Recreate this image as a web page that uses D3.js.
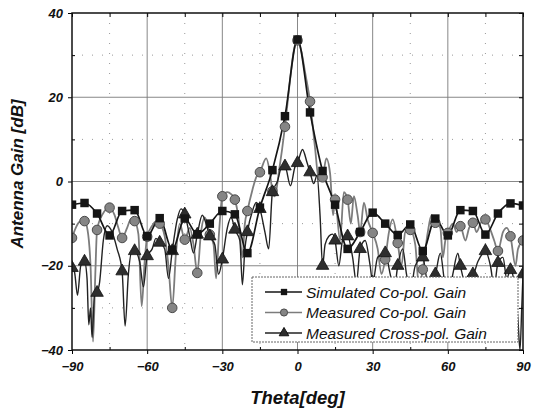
<!DOCTYPE html>
<html>
<head>
<meta charset="utf-8">
<script src="https://cdn.jsdelivr.net/npm/d3@7"></script>
<style>
  html, body { margin: 0; padding: 0; background: #fff; }
  svg { display: block; font-family: "Liberation Sans", Arial, sans-serif; }
</style>
</head>
<body>
<svg id="chart" width="543" height="410"></svg>
<script>
// Simulated co-pol gain, one point every 5 degrees
const simTheta = [-90, -85, -80, -75, -70, -65, -60, -55, -50, -45, -40, -35, -30, -25, -20, -15, -10, -5, 0,
    5, 10, 15, 20, 25, 30, 35, 40, 45, 50, 55, 60, 65, 70, 75, 80, 85, 90];
const simGain = [-5.5, -5.1, -7.6, -12.8, -7.0, -6.8, -13.0, -8.7, -16.2, -8.8, -12.5, -10.0, -7.0, -7.8, -17.0, -6.2, 2.7, 15.5, 33.7,
    16.4, 2.5, -5.5, -16.0, -12.0, -7.4, -10.0, -12.7, -10.2, -16.5, -8.8, -12.8, -6.8, -7.0, -12.6, -7.6, -5.2, -5.7];

// Measured co-pol gain
const coTheta = [-90, -88.5, -87, -85, -83.8, -82.6, -81.6, -80.7, -80, -78, -75, -73, -71.5, -70, -68, -66.5, -65, -63.5, -62.2, -61,
    -60, -58, -56.5, -55, -53, -51.5, -50, -48.5, -47, -45, -43, -41.5, -40, -38.5, -37, -35, -33.5, -32.5, -31.3, -30,
    -28, -26.5, -25, -23.5, -22, -21, -20, -18, -16.5, -15, -12.5, -11, -10, -9, -7.5, -5, -3, -1.5, 0, 1.5,
    3, 5, 7, 8.5, 10, 11.5, 13, 14.2, 15, 17, 18.5, 20, 21.3, 22.5, 24, 25, 26.5, 28, 30, 32,
    33.5, 35, 36.5, 38, 40, 41.5, 43, 45, 47, 48.5, 50, 52, 53.5, 55, 57, 58, 59, 60, 62, 63.5,
    65, 67, 68.5, 70, 71.5, 73, 75, 77, 78.5, 80, 82, 83.5, 85, 87, 88, 90];
const coGain = [-13.4, -11, -9.6, -9.4, -11.5, -20, -38, -22, -11.5, -8, -6.2, -8, -11, -13.4, -11, -9, -9.4, -12.5, -29.6, -19,
    -13.1, -10.5, -9.5, -10, -13, -20, -30, -17, -10, -13.8, -11, -15, -21.7, -12, -8.5, -12.6, -15, -23, -12, -3.5,
    -2.5, -3, -4.3, -9, -18, -10, -7, -2, 1, 2.2, 5.5, 2, -2.3, -3.5, 2, 13, 24, 31, 33.5, 31,
    26, 19, 8, 0.5, 1, 5.5, 2, -8, -4.3, -14, -2.5, -4.3, -10, -3.5, -8, -12, -5, -9, -12.2, -16,
    -22, -18.5, -12, -9, -14.6, -20, -12, -11.5, -15, -25, -20.9, -12, -8, -9.8, -11, -18, -14, -12.2, -10, -12,
    -10.6, -14, -11, -9.8, -12, -10, -9, -11.5, -14, -16.5, -12, -11, -13, -20, -16, -14];

// Measured cross-pol gain
const crossTheta = [-90, -89, -87.8, -86.5, -85, -84, -83.3, -82.6, -82, -81, -80, -79, -77.5, -76, -74, -72, -70, -68.8, -67.5, -66,
    -65, -63, -61.5, -60, -58, -56.5, -55, -53, -51.5, -50, -48, -46.5, -45, -43, -41.5, -40, -38, -36.5, -35, -33,
    -31.5, -30, -28, -26.5, -25, -23, -22, -21, -20, -18, -16.5, -15, -13, -11.5, -10, -8, -6.3, -5, -2.8, -1,
    0, 2, 3.8, 5, 6.5, 7.8, 9, 10, 11, 12.5, 14, 15, 16.5, 18, 20, 22, 23.5, 25, 27, 29,
    30, 32, 35, 37, 38.5, 40, 42, 43.5, 45, 47, 50, 52, 55, 57, 58.5, 60, 62, 64, 65, 67,
    68.5, 70, 72, 74, 75, 77, 78.5, 80, 82, 83.5, 85, 86.5, 88, 88.8, 89.5, 90];
const crossGain = [-20.5, -21.5, -27, -20, -19, -23, -34, -30, -37, -27, -26.4, -24, -14, -10.5, -12, -16, -21.3, -34.3, -22, -16.5,
    -16.5, -19, -25, -17.7, -16, -13.5, -14.5, -16, -23, -16.5, -9, -6.5, -7.8, -13, -17, -12.6, -8, -10, -13, -15,
    -22, -18.5, -11, -8.5, -11.4, -14, -24.5, -16, -12, -7, -5, -6.5, -12, -16, -2.5, 0, 3.5, 3.6, -1, 3.5,
    4.4, 7.6, 4.5, 2.2, -0.5, 1.5, -8, -20, -15, -13, -12.5, -14, -20, -14, -13, -18, -24, -16, -14, -20,
    -24, -18, -17, -22, -26, -20, -16, -22, -26, -20, -18, -24, -22, -17, -23, -28, -22, -17, -20, -24,
    -22, -22, -19, -17, -16.5, -20, -25, -19.3, -18, -23, -21, -24, -33, -40, -30, -22];

const xTicks = [-90, -60, -30, 0, 30, 60, 90];
const xMinor = [-75, -45, -15, 15, 45, 75];
const yTicks = [-40, -20, 0, 20, 40];
const yMinor = [-30, -10, 10, 30];
const seriesNames = ['Simulated Co-pol. Gain', 'Measured Co-pol. Gain', 'Measured Cross-pol. Gain'];

const plot = { left: 72, right: 523, top: 13, bottom: 350 };
const svg = d3.select('#chart');

const x = d3.scaleLinear().domain([-90, 90]).range([plot.left, plot.right]);
const y = d3.scaleLinear().domain([-40, 40]).range([plot.bottom, plot.top]);

// Grid
const grid = svg.append('g');
grid.selectAll('.gx').data(xTicks.slice(1, -1)).enter().append('line')
    .attr('x1', d => x(d)).attr('x2', d => x(d)).attr('y1', plot.top).attr('y2', plot.bottom)
    .attr('stroke', '#7a7a7a').attr('stroke-width', 0.9);
grid.selectAll('.gy').data(yTicks.slice(1, -1)).enter().append('line')
    .attr('x1', plot.left).attr('x2', plot.right).attr('y1', d => y(d)).attr('y2', d => y(d))
    .attr('stroke', '#7a7a7a').attr('stroke-width', 0.9);
grid.selectAll('.mx').data(xMinor).enter().append('line')
    .attr('x1', d => x(d)).attr('x2', d => x(d)).attr('y1', plot.top).attr('y2', plot.bottom)
    .attr('stroke', '#999').attr('stroke-width', 1).attr('stroke-dasharray', '1,9');
grid.selectAll('.my').data(yMinor).enter().append('line')
    .attr('x1', plot.left).attr('x2', plot.right).attr('y1', d => y(d)).attr('y2', d => y(d))
    .attr('stroke', '#999').attr('stroke-width', 1).attr('stroke-dasharray', '1,9');

svg.append('clipPath').attr('id', 'clip').append('rect')
    .attr('x', plot.left).attr('y', plot.top)
    .attr('width', plot.right - plot.left).attr('height', plot.bottom - plot.top);

const zip = (t, v) => t.map((d, i) => ({ theta: d, gain: v[i] }));
const simData = zip(simTheta, simGain);
const coData = zip(coTheta, coGain);
const crossData = zip(crossTheta, crossGain);
const onFive = d => Math.abs(d.theta % 5) < 1e-9;

const line = d3.line().x(d => x(d.theta)).y(d => y(d.gain)).curve(d3.curveMonotoneX);
const marks = svg.append('g').attr('clip-path', 'url(#clip)');

const sym = {
    square: d3.symbol().type(d3.symbolSquare).size(72),
    circle: d3.symbol().type(d3.symbolCircle).size(72),
    triangle: d3.symbol().type(d3.symbolTriangle).size(68)
};

// Measured co-pol
marks.append('path').datum(coData)
    .attr('fill', 'none').attr('stroke', '#7c7c7c').attr('stroke-width', 1.8).attr('d', line);
// Measured cross-pol
marks.append('path').datum(crossData)
    .attr('fill', 'none').attr('stroke', '#222').attr('stroke-width', 1.4).attr('d', line);
// Simulated co-pol
marks.append('path').datum(simData)
    .attr('fill', 'none').attr('stroke', '#151515').attr('stroke-width', 1.7).attr('d', line);

marks.selectAll('.co-pt').data(coData.filter(onFive)).enter().append('path')
    .attr('transform', d => `translate(${x(d.theta)},${y(d.gain)})`)
    .attr('d', sym.circle()).attr('fill', '#858585').attr('stroke', '#4a4a4a').attr('stroke-width', 1);
marks.selectAll('.cross-pt').data(crossData.filter(onFive)).enter().append('path')
    .attr('transform', d => `translate(${x(d.theta)},${y(d.gain)})`)
    .attr('d', sym.triangle()).attr('fill', '#2e2e2e').attr('stroke', '#111').attr('stroke-width', 0.8);
marks.selectAll('.sim-pt').data(simData).enter().append('path')
    .attr('transform', d => `translate(${x(d.theta)},${y(d.gain)})`)
    .attr('d', sym.square()).attr('fill', '#151515');

// Axes
const tickFont = g => g.selectAll('text')
    .attr('font-size', '13px').attr('font-weight', 'bold').attr('font-style', 'italic').attr('fill', '#111');

svg.append('g').attr('transform', `translate(0,${plot.bottom})`)
    .call(d3.axisBottom(x).tickValues(xTicks).tickSize(4).tickPadding(8))
    .call(tickFont).call(g => g.select('.domain').remove());
svg.append('g').attr('transform', `translate(0,${plot.bottom})`)
    .call(d3.axisBottom(x).tickValues(xMinor).tickSize(-3).tickFormat(''))
    .call(g => g.select('.domain').remove());
svg.append('g').attr('transform', `translate(${plot.left},0)`)
    .call(d3.axisLeft(y).tickValues(yTicks).tickSize(4).tickPadding(5))
    .call(tickFont).call(g => g.select('.domain').remove());
svg.append('g').attr('transform', `translate(${plot.left},0)`)
    .call(d3.axisLeft(y).tickValues(yMinor).tickSize(-3).tickFormat(''))
    .call(g => g.select('.domain').remove());
svg.append('g').attr('transform', `translate(0,${plot.top})`)
    .call(d3.axisTop(x).tickValues(xTicks.concat(xMinor)).tickSize(-4).tickFormat(''))
    .call(g => g.select('.domain').remove());
svg.append('g').attr('transform', `translate(${plot.right},0)`)
    .call(d3.axisRight(y).tickValues(yTicks.concat(yMinor)).tickSize(-4).tickFormat(''))
    .call(g => g.select('.domain').remove());

// Frame
svg.append('rect')
    .attr('x', plot.left).attr('y', plot.top)
    .attr('width', plot.right - plot.left).attr('height', plot.bottom - plot.top)
    .attr('fill', 'none').attr('stroke', '#111').attr('stroke-width', 1.5);

// Axis titles
svg.append('text')
    .attr('x', (plot.left + plot.right) / 2).attr('y', 404)
    .attr('text-anchor', 'middle').attr('font-size', '18.5px').attr('font-weight', 'bold').attr('font-style', 'italic')
    .attr('fill', '#111').text('Theta[deg]');
svg.append('text')
    .attr('transform', 'translate(23,174) rotate(-90)')
    .attr('text-anchor', 'middle').attr('font-size', '17px').attr('font-weight', 'bold').attr('font-style', 'italic')
    .attr('fill', '#111').text('Antenna Gain [dB]');

// Legend
const legend = svg.append('g').attr('transform', 'translate(252,277)');
legend.append('rect').attr('width', 266).attr('height', 65)
    .attr('fill', '#fff').attr('stroke', '#666').attr('stroke-width', 1).attr('stroke-dasharray', '2,1');
const legendStyle = [
    { stroke: '#151515', sym: sym.square, fill: '#151515', edge: 'none' },
    { stroke: '#7c7c7c', sym: sym.circle, fill: '#858585', edge: '#4a4a4a' },
    { stroke: '#222', sym: sym.triangle, fill: '#2e2e2e', edge: '#111' }
];
seriesNames.forEach((name, i) => {
    const row = legend.append('g').attr('transform', `translate(0,${15 + i * 20.5})`);
    row.append('line').attr('x1', 13).attr('x2', 50)
        .attr('stroke', legendStyle[i].stroke).attr('stroke-width', 1.5);
    row.append('path').attr('transform', 'translate(32,0)')
        .attr('d', legendStyle[i].sym.size(40)())
        .attr('fill', legendStyle[i].fill).attr('stroke', legendStyle[i].edge);
    row.append('text').attr('x', 54).attr('y', 5.5)
        .attr('font-size', '15.5px').attr('font-style', 'italic').attr('fill', '#111')
        .text(name);
});
</script>
</body>
</html>
